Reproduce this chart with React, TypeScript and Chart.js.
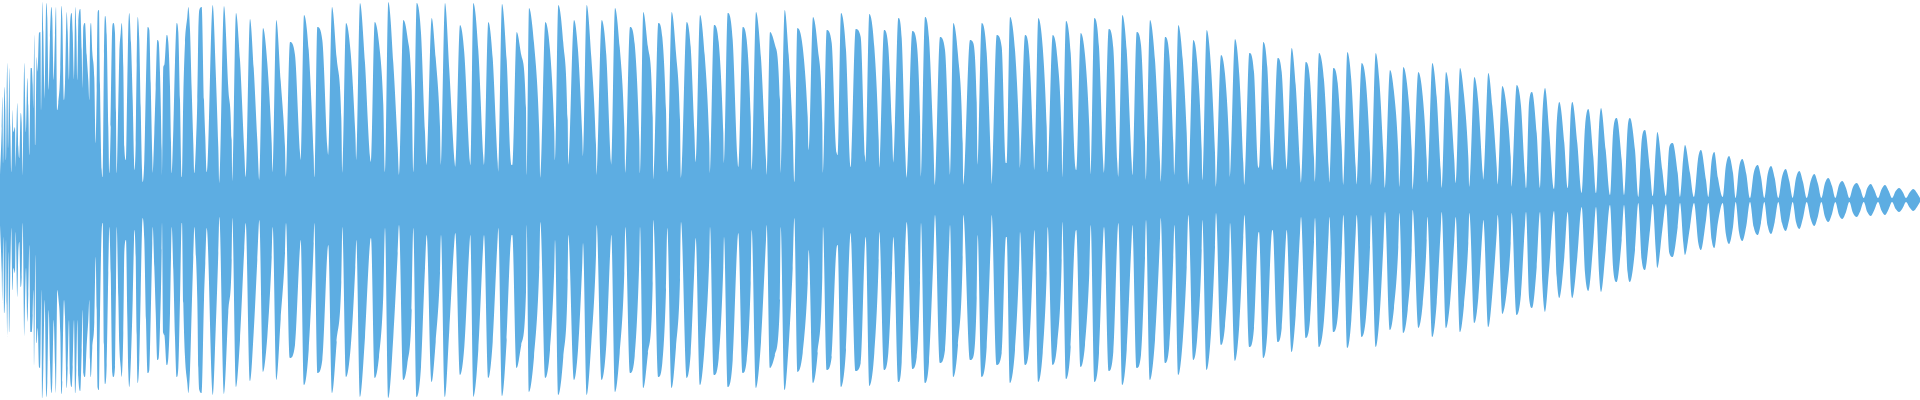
import React, { useEffect, useRef } from "react";
import { Chart, registerables } from "chart.js";

Chart.register(...registerables);

const WAVE_COLOR = "#5DADE2";

// Envelope vertices (x position, amplitude above the centre line; the lower edge mirrors it)
// Onset: dense chirp-like spikes, 0 - 206
const onsetX = [
  0, 1.7, 2.3, 3.3, 4.3, 5.3, 6, 6.7, 7.3, 8.3, 9.3, 10.3, 11.3, 12.7, 13.3, 15, 15.7, 17.3, 18.3, 19.3,
  20.7, 21.7, 22.7, 24.3, 26, 27.3, 28.3, 29.3, 30.7, 31.7, 32.7, 33.3, 34.3, 35.3, 36.7, 37.7, 39, 40.3, 41.3, 42.3,
  43.3, 44.7, 46.3, 47.3, 48.7, 50, 51.3, 52.3, 53.7, 55, 56, 57.3, 58.3, 60.3, 61.3, 62.3, 64, 65, 66.7, 67.7,
  69, 70, 71.7, 72.7, 74, 75.3, 76.3, 77.3, 78.3, 80.3, 81.7, 82.7, 83.3, 85, 86.7, 88.3, 89.3, 90, 91, 92.3,
  94.3, 95.7, 96.7, 97.7, 99,
  100, 101.7, 102.7, 104, 105, 106.7, 108.3, 109.3, 110.7, 112.3, 113.3, 115, 116, 116.7,
  118.3, 119.3, 120.7, 121.7, 123.3, 124.3, 126, 127.3, 128.3, 129.3, 131, 132.7, 134, 134.3,
  135.7, 136.7, 137.7, 139.3, 140.7, 142, 142.7, 144.3, 146, 147.7, 149.3, 150.7, 152.3, 152.7,
  154.3, 155.7, 157.3, 158.7, 160, 161.7, 162, 163.3, 164.3, 166.7, 168.3, 170, 171, 171.7,
  173.3, 175, 176.7, 178.3, 180, 181.7, 182, 183.3, 185, 187.3, 188.3, 190, 191.7, 193.3, 194.3,
  196, 197.3, 198.3, 199.3, 201.7, 204, 205.3,
];
const onsetAmp = [
  25, 72, 103, 37, 113, 90, 40, 105, 137, 52, 132, 73, 28, 90, 68, 73, 32, 97, 53, 42,
  87, 77, 23, 137, 68, 122, 94, 45, 132, 132, 115, 90, 165, 55, 143, 128, 167, 168, 90, 198,
  168, 100, 197, 182, 110, 162, 193, 182, 120, 165, 193, 90, 97, 133, 194, 182, 100, 117, 188, 168,
  120, 175, 187, 167, 120, 193, 170, 120, 177, 191, 150, 110, 173, 177, 145, 120, 100, 160, 177, 148,
  122, 57, 110, 188, 190,
  115, 30, 23, 145, 184, 165, 73, 27, 73, 173, 177, 167, 87, 27,
  97, 145, 167, 177, 133, 53, 40, 117, 172, 187, 157, 100, 40, 30,
  57, 135, 183, 160, 93, 30, 18, 40, 120, 173, 170, 117, 43, 27,
  67, 112, 160, 158, 127, 50, 23, 133, 135, 165, 158, 113, 57, 27,
  70, 138, 177, 168, 100, 23, 23, 103, 157, 183, 193, 170, 110, 57, 27,
  57, 100, 168, 190, 193, 100, 63,
];

// Body: one pulse per line -> gap, peak, mid-decay, end of decay
const bodyX = [
  206.7, 212.7, 215.7, 218.3, 219.3, 224, 228.3, 231.7, 232.3, 236, 240, 244.3,
  245.7, 250, 253.7, 257.3, 259.3, 263, 267.3, 271.7, 272.7, 276.3, 280.7, 285,
  286, 290, 295, 300, 300.7, 304, 308.7, 313.7, 314.3, 317.3, 322.3, 327.3,
  328.3, 332, 336.7, 341.3, 342.3, 346, 350.7, 355.3, 356.3, 360, 365, 370,
  371, 374.7, 379, 383.3, 385, 388.3, 393.3, 397.7, 399, 403.3, 407.3, 411.7,
  413.3, 416.7, 421, 425, 426.7, 431.7, 435.7, 440, 441, 445, 449.3, 454.7,
  455.3, 460, 464.3, 470, 470.3, 473.3, 478.3, 483.3, 484, 488.3, 492.7, 497.7,
  498.3, 502, 506.7, 511.7, 512.3, 516.7, 521.3, 526, 526.7, 529, 534, 539.3,
  540.3, 545.3, 550, 554.3, 555, 558.3, 563.3, 567.7, 568.3, 574, 578, 582.3,
  583, 586.7, 591.3, 596, 596.7, 601.7, 606.3, 611, 611.3, 615, 619.7, 624.3,
  625.3, 630, 634.7, 639.3, 640, 643.3, 648, 652.7, 653.3, 658.3, 662.3, 666,
  667.3, 671.7, 676, 680, 681, 686.7, 690.7, 694.3, 695.7, 700, 704.7, 709.3,
  710, 714, 718.7, 723.3, 724, 727.7, 732.7, 737.3, 738.3, 742.7, 746.7, 750.7,
  751.7, 756, 761, 766, 766.7, 770, 775, 780, 780.7, 784.7, 788.7, 792.7,
  794.3, 797.3, 802.7, 807.7, 808.7, 813, 817.7, 822.3, 823, 826.7, 831.7, 836.7,
  837.7, 841, 846, 850.7, 851.3, 855.7, 860.7, 865, 865.7, 869.3, 874.3, 878.7,
  879.3, 884, 888.3, 892, 893.3, 898.3, 901.7, 905.3, 906.7, 912.3, 916.7, 920,
  921, 925, 929, 933.3, 935, 940, 945, 949.3, 950, 953.3, 958, 962.7,
  963.3, 970, 973.3, 976.7, 977.7, 981.7, 986.7, 991, 991.7, 996.7, 1001.7, 1006,
  1006.7, 1010, 1015, 1019.3, 1020, 1025, 1029.3, 1033.3, 1034.3, 1038.3, 1042.7, 1046.7,
  1047.7, 1052.7, 1057.3, 1061.7, 1062.3, 1066, 1070.7, 1075.3, 1076.3, 1080.7, 1085, 1089.3,
  1090.7, 1094.3, 1099, 1103.3, 1104, 1108.7, 1113.3, 1117.3, 1118.3, 1122.3, 1126.7, 1131.7,
  1132.3, 1136.7, 1141, 1145, 1146, 1150, 1155, 1160, 1160.7, 1165, 1169.3, 1173.3,
  1174.3, 1178.3, 1182.7, 1186.7, 1188.3, 1193.3, 1197.3, 1201.7, 1202.3, 1206.7, 1211, 1215,
  1216, 1221, 1225, 1229.3, 1230, 1235, 1239.3, 1243.3, 1244.3, 1249.3, 1254, 1258.3,
  1259, 1263.3, 1267.3, 1271.7, 1272.7, 1277.7, 1281.7, 1286, 1286.7, 1291.7, 1295.7, 1300,
  1301, 1305.7, 1310, 1314, 1315, 1319, 1324, 1328.7, 1329.3, 1333.3, 1337.7, 1341.7,
  1343.3, 1347.3, 1351.3, 1355.7, 1356.7, 1361.7, 1366, 1370, 1371, 1375.7, 1379.3, 1383.3,
  1385, 1390, 1394, 1398.3, 1399.3, 1403.3, 1407.7, 1411.7, 1412.7, 1418.3, 1422.7, 1426.7,
  1427.3, 1432.3, 1436.7, 1440.7, 1441.7, 1446, 1450, 1454.3, 1455.7, 1460, 1464, 1468.3,
  1469.3, 1474.3, 1478.3, 1482.7, 1483.3, 1488.3, 1492.3, 1496.7, 1497.7, 1502.3, 1506.7, 1510.7,
  1511.7, 1516.7, 1521, 1525,
];
const bodyAmp = [
  28, 195, 129, 53, 17, 194, 112, 60, 18, 187, 140, 48,
  23, 181, 132, 60, 20, 172, 137, 57, 27, 180, 119, 53,
  23, 158, 145, 47, 40, 185, 150, 43, 23, 173, 160, 53,
  45, 193, 142, 82, 27, 177, 147, 67, 40, 197, 137, 43,
  38, 178, 157, 95, 28, 198, 137, 53, 25, 180, 164, 110,
  28, 197, 167, 68, 35, 182, 142, 73, 35, 197, 130, 37,
  33, 175, 147, 37, 35, 197, 150, 43, 35, 178, 142, 37,
  28, 196, 140, 35, 35, 168, 145, 92, 25, 192, 157, 67,
  22, 178, 150, 68, 40, 195, 157, 80, 35, 180, 150, 63,
  43, 195, 143, 55, 25, 180, 145, 37, 35, 192, 153, 73,
  27, 173, 156, 60, 27, 188, 153, 83, 20, 177, 163, 90,
  28, 188, 147, 80, 22, 178, 153, 70, 38, 185, 145, 57,
  27, 175, 158, 67, 37, 187, 160, 43, 33, 173, 160, 83,
  30, 188, 142, 40, 25, 168, 155, 100, 27, 190, 145, 68,
  18, 172, 153, 83, 50, 183, 153, 77, 27, 170, 157, 47,
  45, 187, 150, 33, 43, 171, 163, 43, 37, 186, 153, 60,
  32, 170, 153, 73, 37, 182, 162, 48, 22, 169, 157, 83,
  23, 183, 162, 60, 15, 163, 150, 40, 25, 177, 145, 57,
  15, 160, 157, 98, 35, 177, 147, 35, 15, 165, 153, 37,
  37, 183, 150, 60, 32, 165, 145, 53, 30, 182, 153, 73,
  27, 165, 143, 60, 22, 179, 147, 33, 30, 167, 145, 73,
  25, 182, 153, 35, 27, 171, 152, 37, 23, 185, 150, 37,
  25, 168, 155, 58, 20, 180, 140, 38, 18, 163, 145, 57,
  25, 175, 141, 67, 15, 160, 137, 50, 20, 170, 133, 47,
  13, 145, 126, 50, 23, 161, 125, 37, 15, 147, 128, 33,
  32, 158, 133, 33, 30, 142, 128, 37, 30, 152, 115, 33,
  17, 138, 120, 42, 18, 147, 120, 32, 17, 132, 117, 53,
  15, 148, 120, 33, 15, 137, 117, 47, 15, 147, 120, 47,
  12, 130, 108, 47, 13, 133, 110, 50, 10, 128, 104, 40,
  17, 137, 103, 30, 12, 128, 103, 40, 17, 132, 105, 43,
  13, 123, 98, 27, 20, 127, 94, 33, 15, 114, 92, 43,
  13, 115, 94, 25,
];

// Tail: fading spindles -> gap, rise, peak, fall
const tailX = [
  1526, 1529, 1532, 1536.7, 1540, 1542.3, 1545, 1549.3,
  1554, 1556.7, 1559.3, 1564.3, 1567.7, 1570.7, 1572.3, 1577.3,
  1581.7, 1585, 1588.3, 1593.3, 1596, 1599, 1601, 1605.7,
  1610, 1613, 1616.7, 1621.7, 1624, 1627.7, 1630, 1635,
  1638.3, 1641.7, 1645, 1650, 1652.7, 1655.7, 1657.3, 1662.3,
  1666, 1669.3, 1672.7, 1677.7, 1680, 1683.3, 1685, 1690,
  1694, 1698.3, 1701, 1706, 1708.3, 1711.7, 1714.3, 1718,
  1722.7, 1725.7, 1729, 1733, 1735.7, 1739, 1742.3, 1746.3,
  1750, 1753.7, 1757.7, 1761, 1764.3, 1767.7, 1771, 1774.7,
  1778.3, 1782, 1785.7, 1789.3, 1792.7, 1796, 1799.3, 1803,
  1806.7, 1810.7, 1814.3, 1818, 1821.3, 1825, 1828.3, 1832,
  1835.3, 1839, 1842.3, 1846, 1849.3, 1853, 1856.7, 1860.3,
  1863.7, 1867.3, 1870.7, 1874.3, 1878, 1881.7, 1885, 1888.7,
  1892, 1895.7, 1899, 1902.7, 1906, 1910, 1913.3, 1917,
  1920,
];
const tailAmp = [
  12, 97, 108, 67, 12, 83, 112, 67,
  11, 77, 98, 57, 12, 87, 98, 57,
  7, 73, 91, 43, 7, 73, 92, 50,
  5, 67, 82, 40, 5, 73, 82, 50,
  3, 60, 70, 30, 4, 50, 68, 30,
  4, 53, 57, 27, 3, 43, 55, 27,
  3, 43, 50, 20, 3, 40, 48, 22,
  3, 33, 44, 27, 2, 32, 41, 26,
  2, 27, 35, 23, 2, 26, 34, 22,
  2, 23, 31, 19, 2, 22, 29, 18,
  2, 19, 26, 16, 2, 17, 22, 14,
  2, 15, 19, 12, 2, 13, 17, 11,
  2, 12, 16, 10, 2, 11, 15, 9,
  2, 9, 12, 8, 2, 8, 11, 7,
  2,
];

const envelopeX = [...onsetX, ...bodyX, ...tailX];
const envelopeAmp = [...onsetAmp, ...bodyAmp, ...tailAmp];

export default function App() {
  const canvasRef = useRef<HTMLCanvasElement>(null);

  useEffect(() => {
    const canvas = canvasRef.current;
    if (!canvas) return;
    const upper = envelopeX.map((x, i) => ({ x, y: envelopeAmp[i] }));
    const lower = envelopeX.map((x, i) => ({ x, y: -envelopeAmp[i] }));
    const common = {
      backgroundColor: WAVE_COLOR,
      borderColor: WAVE_COLOR,
      borderWidth: 0,
      pointRadius: 0,
      cubicInterpolationMode: "monotone" as const,
    };
    const chart = new Chart(canvas, {
      type: "line",
      data: {
        datasets: [
          { ...common, data: upper, fill: "+1" },
          { ...common, data: lower, fill: false },
        ],
      },
      options: {
        animation: false,
        responsive: false,
        events: [],
        layout: { padding: 0 },
        plugins: { legend: { display: false }, tooltip: { enabled: false } },
        scales: {
          x: { type: "linear", display: false, min: 0, max: 1920 },
          y: { type: "linear", display: false, min: -200, max: 200 },
        },
      },
    });
    return () => chart.destroy();
  }, []);

  return (
    <div style={{ position: "fixed", left: 0, top: 0, width: 1920, height: 400, background: "#ffffff" }}>
      <canvas ref={canvasRef} width={1920} height={400} style={{ display: "block", width: 1920, height: 400 }} />
    </div>
  );
}
